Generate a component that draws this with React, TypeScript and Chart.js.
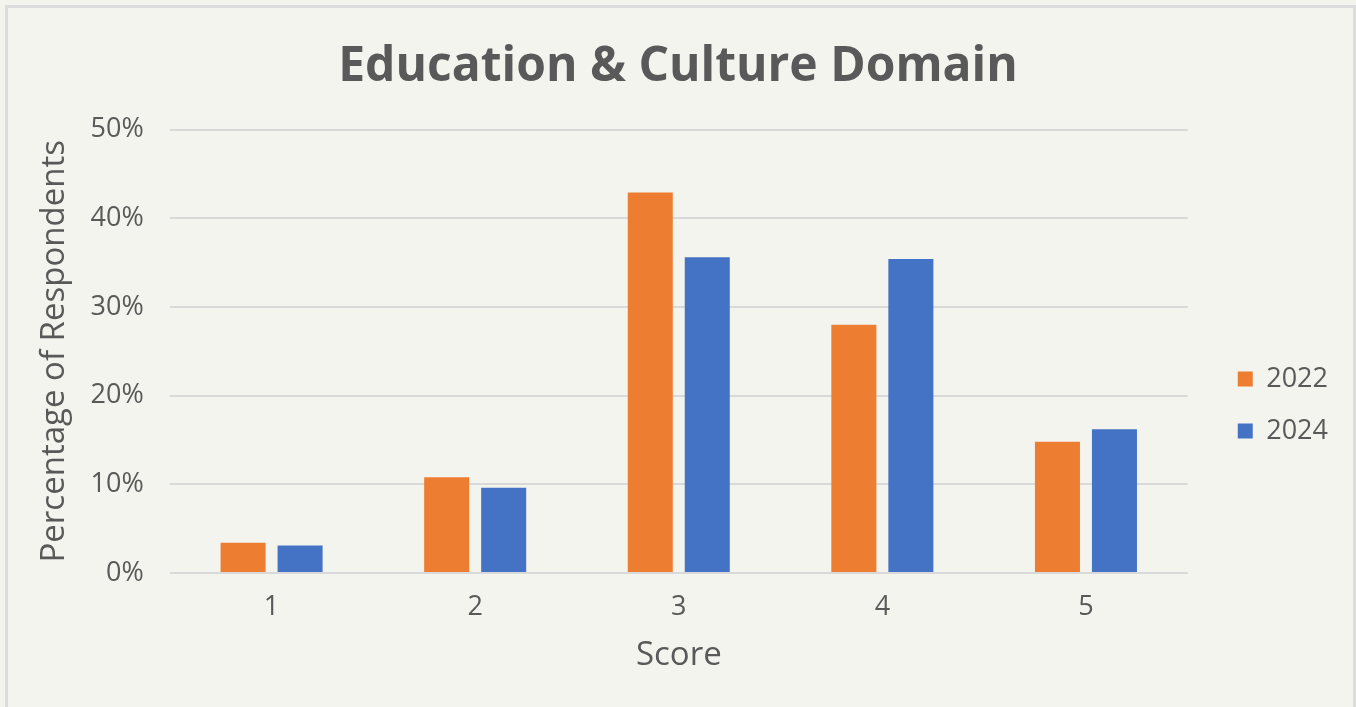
import React, { useEffect, useRef } from "react";
import { Chart, registerables } from "chart.js";

Chart.register(...registerables);

const categories = ["1", "2", "3", "4", "5"];
const values2022 = [3.4, 10.8, 42.9, 28.0, 14.8];
const values2024 = [3.1, 9.6, 35.6, 35.4, 16.2];
const seriesLabels = ["2022", "2024"];
const yTickValues = [0, 10, 20, 30, 40, 50];

const FONT = "'Open Sans', 'Noto Sans', sans-serif";
const TEXT = "#595959";

export default function App() {
  const ref = useRef<HTMLCanvasElement | null>(null);

  useEffect(() => {
    if (!ref.current) return;
    const chart = new Chart(ref.current, {
      type: "bar",
      data: {
        labels: categories,
        datasets: [
          {
            label: seriesLabels[0],
            data: values2022,
            backgroundColor: "#ED7D31",
            barPercentage: 0.79,
            categoryPercentage: 0.56,
          },
          {
            label: seriesLabels[1],
            data: values2024,
            backgroundColor: "#4472C4",
            barPercentage: 0.79,
            categoryPercentage: 0.56,
          },
        ],
      },
      options: {
        responsive: false,
        animation: false,
        layout: { padding: { left: 18, right: 18, top: 0, bottom: 0 } },
        plugins: {
          title: {
            display: true,
            text: "Education & Culture Domain",
            color: TEXT,
            font: { family: FONT, size: 48, weight: "bold" },
            padding: { top: 39, bottom: 33 },
          },
          legend: {
            position: "right",
            title: {
              display: true,
              text: "",
              font: { size: 1 },
              padding: { top: 102, bottom: 0 },
            },
            labels: {
              color: TEXT,
              font: { family: FONT, size: 27 },
              boxWidth: 15,
              boxHeight: 15,
              padding: 25,
            },
          },
          tooltip: { enabled: false },
        },
        scales: {
          x: {
            grid: { display: false, drawTicks: false },
            border: { display: false },
            ticks: {
              color: TEXT,
              font: { family: FONT, size: 27 },
              padding: 18,
            },
            title: {
              display: true,
              text: "Score",
              color: TEXT,
              font: { family: FONT, size: 33 },
              padding: { top: -6, bottom: 32 },
            },
          },
          y: {
            min: 0,
            max: 50,
            afterBuildTicks: (axis: any) => {
              axis.ticks = yTickValues.map((v) => ({ value: v }));
            },
            grid: { color: "#d9d9d9", lineWidth: 2, drawTicks: false },
            border: { display: false },
            ticks: {
              color: TEXT,
              font: { family: FONT, size: 27 },
              padding: 26,
              callback: (v: any) => `${v}%`,
            },
            title: {
              display: true,
              text: "Percentage of Respondents",
              color: TEXT,
              font: { family: FONT, size: 33 },
              padding: { top: 17, bottom: -10 },
            },
          },
          spacer: {
            type: "linear",
            position: "right",
            display: true,
            grid: { display: false, drawTicks: false },
            border: { display: false },
            ticks: { display: false },
            afterFit: (s: any) => {
              s.width = 25;
            },
          },
        },
      },
    });
    return () => chart.destroy();
  }, []);

  return (
    <div
      style={{
        position: "fixed",
        left: 0,
        top: 0,
        width: 1356,
        height: 707,
        background: "#f4f4ef",
        overflow: "hidden",
      }}
    >
      <div
        style={{
          position: "absolute",
          left: 5,
          top: 5,
          width: 1345,
          height: 720,
          border: "3px solid #dcdcdc",
        }}
      />
      <canvas
        ref={ref}
        width={1356}
        height={707}
        style={{ position: "absolute", left: 0, top: 0, display: "block" }}
      />
    </div>
  );
}
